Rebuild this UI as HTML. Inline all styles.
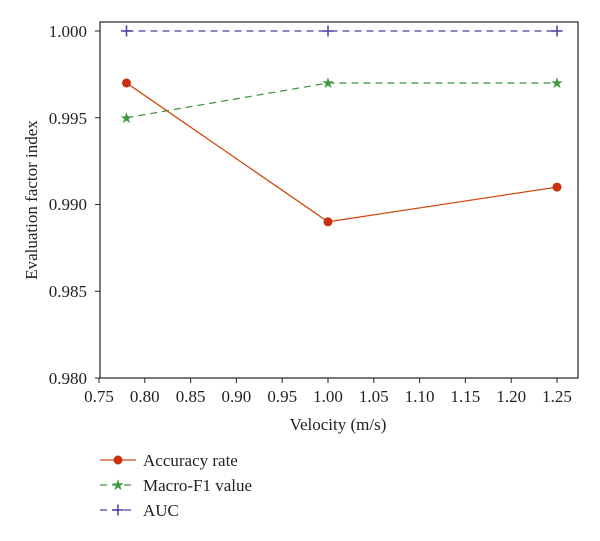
<!DOCTYPE html>
<html><head><style>body{margin:0;background:#fff}</style></head><body>
<svg width="600" height="536" xmlns="http://www.w3.org/2000/svg" font-family="Liberation Serif, serif" fill="#222">
<rect x="100" y="22" width="478" height="356" fill="none" stroke="#222" stroke-width="1.2"/>
<g stroke="#222" stroke-width="1">
<line x1="95" y1="31" x2="100" y2="31"/><line x1="95" y1="117.75" x2="100" y2="117.75"/><line x1="95" y1="204.5" x2="100" y2="204.5"/><line x1="95" y1="291.25" x2="100" y2="291.25"/><line x1="95" y1="378" x2="100" y2="378"/>
</g>
<g font-size="17" text-anchor="end">
<text x="87" y="37">1.000</text><text x="87" y="124">0.995</text><text x="87" y="210">0.990</text><text x="87" y="297">0.985</text><text x="87" y="384">0.980</text>
</g>
<g stroke="#222" stroke-width="1" id="xt">
<line x1="99" y1="378" x2="99" y2="383"/><line x1="144.8" y1="378" x2="144.8" y2="383"/><line x1="190.6" y1="378" x2="190.6" y2="383"/><line x1="236.4" y1="378" x2="236.4" y2="383"/><line x1="282.2" y1="378" x2="282.2" y2="383"/><line x1="328" y1="378" x2="328" y2="383"/><line x1="373.8" y1="378" x2="373.8" y2="383"/><line x1="419.6" y1="378" x2="419.6" y2="383"/><line x1="465.4" y1="378" x2="465.4" y2="383"/><line x1="511.2" y1="378" x2="511.2" y2="383"/><line x1="557" y1="378" x2="557" y2="383"/>
</g>
<g font-size="17" text-anchor="middle">
<text x="99" y="402">0.75</text><text x="144.8" y="402">0.80</text><text x="190.6" y="402">0.85</text><text x="236.4" y="402">0.90</text><text x="282.2" y="402">0.95</text><text x="328" y="402">1.00</text><text x="373.8" y="402">1.05</text><text x="419.6" y="402">1.10</text><text x="465.4" y="402">1.15</text><text x="511.2" y="402">1.20</text><text x="557" y="402">1.25</text>
</g>
<text x="338" y="430" font-size="17" text-anchor="middle">Velocity (m/s)</text>
<text transform="translate(37,200) rotate(-90)" font-size="17" text-anchor="middle">Evaluation factor index</text>
<polyline points="126.5,31 328,31 557,31" fill="none" stroke="#4a3fa0" stroke-width="1.2" stroke-dasharray="7,5"/>
<polyline points="126.5,117.75 328,83 557,83" fill="none" stroke="#3c8f3c" stroke-width="1.2" stroke-dasharray="7,5"/>
<polyline points="126.5,83 328,221.8 557,187.1" fill="none" stroke="#d04a10" stroke-width="1.3"/>
<g stroke="#4a3fa0" stroke-width="1.5">
<path d="M121,31h11M126.5,25.5v11M322.5,31h11M328,25.5v11M551.5,31h11M557,25.5v11"/>
</g>
<g fill="#3c9a3c">
<text x="126.5" y="123" font-size="15" text-anchor="middle">★</text>
<text x="328" y="88" font-size="15" text-anchor="middle">★</text>
<text x="557" y="88" font-size="15" text-anchor="middle">★</text>
</g>
<g fill="#c83010">
<circle cx="126.5" cy="83" r="4.5"/><circle cx="328" cy="221.8" r="4.5"/><circle cx="557" cy="187.1" r="4.5"/>
</g>
<line x1="100" y1="460" x2="136" y2="460" stroke="#d04a10" stroke-width="1.3"/>
<circle cx="118" cy="460" r="4.5" fill="#c83010"/>
<text x="143" y="466" font-size="17">Accuracy rate</text>
<line x1="100" y1="485" x2="136" y2="485" stroke="#3c8f3c" stroke-width="1.2" stroke-dasharray="7,5"/>
<text x="118" y="490" font-size="15" text-anchor="middle" fill="#3c9a3c">★</text>
<text x="143" y="491" font-size="17">Macro-F1 value</text>
<line x1="100" y1="510" x2="136" y2="510" stroke="#4a3fa0" stroke-width="1.2" stroke-dasharray="7,5"/>
<path d="M112.5,510h11M118,504.5v11" stroke="#4a3fa0" stroke-width="1.5"/>
<text x="143" y="516" font-size="17">AUC</text>
</svg>
</body></html>
